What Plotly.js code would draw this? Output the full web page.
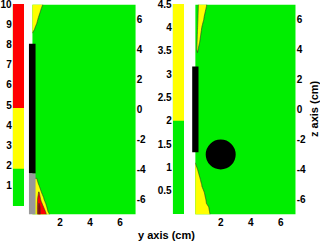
<!DOCTYPE html>
<html><head><meta charset="utf-8">
<script src="https://cdn.plot.ly/plotly-3.0.1.min.js"></script>
<style>html,body{margin:0;padding:0;background:#fff}#chart{width:320px;height:241px}</style>
</head><body><div id="chart"></div>
<script>
// ---------- DATA ----------
// Left panel: field on a 0-10 scale (thresholds)
const leftY = [0.15, 0.3, 0.45, 0.6, 0.75, 0.9, 1.05, 1.2, 1.35, 1.5, 7.05];
const leftZ = [-7, -6.5, -6, -5.5, -5, -4.5, 4.5, 5, 5.5, 6, 6.5, 7];
const leftField = [
  [3.35, 3.35, 3.35, 9.35, 6.35, 6.35, 5.52, 3.0, 1.43, 0.35, 0.35],
  [3.35, 3.35, 3.35, 9.35, 6.35, 4.9, 3.35, 0.15, 0.35, 0.35, 0.35],
  [3.35, 3.35, 4.1, 6.35, 4.3, 2.5, 0.1, 0.35, 0.35, 0.35, 0.35],
  [3.35, 3.35, 4.1, 5.0, 1.9, 0.35, 0.35, 0.35, 0.35, 0.35, 0.35],
  [3.35, 3.35, 3.35, 1.5, 0.35, 0.35, 0.35, 0.35, 0.35, 0.35, 0.35],
  [1.5, 1.5, 1.5, 0.35, 0.35, 0.35, 0.35, 0.35, 0.35, 0.35, 0.35],
  [0.35, 0.35, 0.35, 0.35, 0.35, 0.35, 0.35, 0.35, 0.35, 0.35, 0.35],
  [1.55, 0.4, 0.35, 0.35, 0.35, 0.35, 0.35, 0.35, 0.35, 0.35, 0.35],
  [3.35, 2.5, 0.55, 0.35, 0.35, 0.35, 0.35, 0.35, 0.35, 0.35, 0.35],
  [3.35, 3.35, 3.35, 0.15, 0.35, 0.35, 0.35, 0.35, 0.35, 0.35, 0.35],
  [3.35, 3.35, 3.35, 3.35, 0.55, 0.35, 0.35, 0.35, 0.35, 0.35, 0.35],
  [3.35, 3.35, 3.35, 3.35, 3.35, 1.1, 0.35, 0.35, 0.35, 0.35, 0.35]
];
const leftLevels = [1.85, 4.85, 7.85];
const leftScaleRange = [0, 10];
const leftScaleTicks = [1, 2, 3, 4, 5, 6, 7, 8, 9, 10];
const leftRodY = [0.15, 0.15];
const leftRodWidth = [0.44, 0.44];
const leftRodBase = [-4.27, -7];
const leftRodLength = [8.65, 2.73];

// Right panel: field on a 0-4.5 scale
const rightY = [0.3, 0.45, 0.6, 0.75, 0.9, 1.05, 1.2, 1.35, 1.5, 7.0];
const rightZ = [-7, -6, -5, -4, -3.5, 3.5, 4, 5, 6, 7];
const rightField = [
  [3, 3, 3, 3, 3, 3, 3, 1.33, 1, 1],
  [3, 3, 3, 3, 3, 1.64, 1, 1, 1, 1],
  [3, 3, 3, 1.85, 1, 1, 1, 1, 1, 1],
  [3, 2.05, 1, 1, 1, 1, 1, 1, 1, 1],
  [1.9, 1, 1, 1, 1, 1, 1, 1, 1, 1],
  [1, 1.5, 1, 1, 1, 1, 1, 1, 1, 1],
  [1, 2.36, 1, 1, 1, 1, 1, 1, 1, 1],
  [1, 2.07, 3, 0.86, 1, 1, 1, 1, 1, 1],
  [1, 1.75, 3, 3, 1.75, 1, 1, 1, 1, 1],
  [1, 1.33, 3, 3, 3, 2.15, 1, 1, 1, 1]
];
const rightLevels = [2];
const rightScaleRange = [0, 4.5];
const rightScaleTicks = [0.5, 1, 1.5, 2, 2.5, 3, 3.5, 4, 4.5];
const rightRodY = [0.31];
const rightRodWidth = [0.42];
const rightRodBase = [-2.85];
const rightRodLength = [5.72];
const sphereCenter = [2, -3];
const sphereRadius = 1;

const xTicks = [2, 4, 6];
const zTicks = [-6, -4, -2, 0, 2, 4, 6];

// ---------- STYLE ----------
const G = '#00ee00', Y = '#ffff00', R = '#ff0000', M = '#a00000';
const W = 320, H = 241;
const px = (a, b) => [a / W, b / W];
const py = (top, bottom) => [1 - bottom / H, 1 - top / H];
const FAM = 'Liberation Sans';
const tf = {family: FAM, size: 10, color: '#000', weight: 700};
const baseAx = {showgrid: false, zeroline: false, showline: false, ticks: '', tickfont: tf,
                fixedrange: true, ticklabeloverflow: 'allow'};
const lab = v => '<b>' + String(v) + '</b>';

function lv(levels) {
  return {start: levels[0], end: levels[levels.length - 1],
          size: levels.length > 1 ? levels[1] - levels[0] : 1};
}

const traces = [
  // left colour bar
  {type: 'contour', x: [0, 1], y: leftScaleRange,
   z: [[leftScaleRange[0], leftScaleRange[0]], [leftScaleRange[1], leftScaleRange[1]]],
   xaxis: 'x', yaxis: 'y', autocontour: false,
   contours: {start: leftLevels[0], end: leftLevels[1], size: leftLevels[1] - leftLevels[0], coloring: 'fill', showlines: false},
   colorscale: [[0, G], [0.5, Y], [1, R]], showscale: false, hoverinfo: 'skip', line: {width: 0, smoothing: 0}},
  // left field
  {type: 'contour', x: leftY, y: leftZ, z: leftField, xaxis: 'x2', yaxis: 'y2', autocontour: false,
   contours: Object.assign(lv(leftLevels), {coloring: 'fill', showlines: true}),
   colorscale: [[0, G], [1/3, Y], [2/3, R], [1, M]], showscale: false, hoverinfo: 'skip',
   line: {color: '#333', width: 0.6, smoothing: 0}},
  {type: 'bar', x: leftRodY, width: leftRodWidth, base: leftRodBase, y: leftRodLength,
   xaxis: 'x2', yaxis: 'y2', marker: {color: ['#000000', '#999999'], line: {width: 0}}, hoverinfo: 'skip'},
  // right colour bar
  {type: 'contour', x: [0, 1], y: rightScaleRange,
   z: [[rightScaleRange[0], rightScaleRange[0]], [rightScaleRange[1], rightScaleRange[1]]],
   xaxis: 'x3', yaxis: 'y3', autocontour: false,
   contours: {start: rightLevels[0], end: rightLevels[0], size: 1, coloring: 'fill', showlines: false},
   colorscale: [[0, G], [1, Y]], showscale: false, hoverinfo: 'skip', line: {width: 0, smoothing: 0}},
  // right field
  {type: 'contour', x: rightY, y: rightZ, z: rightField, xaxis: 'x4', yaxis: 'y4', autocontour: false,
   contours: {start: rightLevels[0], end: rightLevels[0], size: 1, coloring: 'fill', showlines: true},
   colorscale: [[0, G], [1, Y]], showscale: false, hoverinfo: 'skip',
   line: {color: '#333', width: 0.6, smoothing: 0}},
  {type: 'bar', x: rightRodY, width: rightRodWidth, base: rightRodBase, y: rightRodLength,
   xaxis: 'x4', yaxis: 'y4', marker: {color: '#000000', line: {width: 0}}, hoverinfo: 'skip'}
];

const mainY = py(4.5, 214.5);
const layout = {
  width: W, height: H, margin: {l: 0, r: 0, t: 0, b: 0},
  paper_bgcolor: '#fff', plot_bgcolor: 'rgba(0,0,0,0)', showlegend: false, barmode: 'overlay',
  font: {family: FAM, color: '#000'},
  xaxis: Object.assign({}, baseAx, {domain: px(12.7, 24), range: [0, 1], visible: false, anchor: 'y'}),
  yaxis: Object.assign({}, baseAx, {domain: py(4, 206), range: leftScaleRange, tickvals: leftScaleTicks,
    ticktext: leftScaleTicks.map(lab), side: 'left', anchor: 'x'}),
  xaxis2: Object.assign({}, baseAx, {domain: px(27.75, 135.75), range: [-0.15, 7.05], tickvals: xTicks,
    ticktext: xTicks.map(lab), anchor: 'y2'}),
  yaxis2: Object.assign({}, baseAx, {domain: mainY, range: [-7, 7], tickvals: zTicks,
    ticktext: zTicks.map(lab), side: 'right', anchor: 'x2'}),
  xaxis3: Object.assign({}, baseAx, {domain: px(172.7, 184), range: [0, 1], visible: false, anchor: 'y3'}),
  yaxis3: Object.assign({}, baseAx, {domain: py(4, 214), range: rightScaleRange, tickvals: rightScaleTicks,
    ticktext: rightScaleTicks.map(lab), side: 'left', anchor: 'x3'}),
  xaxis4: Object.assign({}, baseAx, {domain: px(189.95, 295.7), range: [-0.05, 7.0], tickvals: xTicks,
    ticktext: xTicks.map(lab), anchor: 'y4'}),
  yaxis4: Object.assign({}, baseAx, {domain: mainY, range: [-7, 7], tickvals: zTicks,
    ticktext: zTicks.map(lab), side: 'right', anchor: 'x4'}),
  shapes: [{type: 'circle', xref: 'x4', yref: 'y4',
            x0: sphereCenter[0] - sphereRadius, x1: sphereCenter[0] + sphereRadius,
            y0: sphereCenter[1] - sphereRadius, y1: sphereCenter[1] + sphereRadius,
            fillcolor: '#000', line: {width: 0}, layer: 'above'}],
  annotations: [
    {text: '<b>y axis (cm)</b>', xref: 'paper', yref: 'paper', x: 166 / W, y: 1 - 235 / H,
     showarrow: false, xanchor: 'center', yanchor: 'middle',
     font: {family: FAM, size: 11, color: '#000'}},
    {text: '<b>z axis (cm)</b>', xref: 'paper', yref: 'paper', x: 314 / W, y: 1 - 109 / H,
     showarrow: false, xanchor: 'center', yanchor: 'middle', textangle: -90,
     font: {family: FAM, size: 11, color: '#000'}}
  ]
};
Plotly.newPlot('chart', traces, layout, {staticPlot: true, displayModeBar: false});
</script></body></html>
